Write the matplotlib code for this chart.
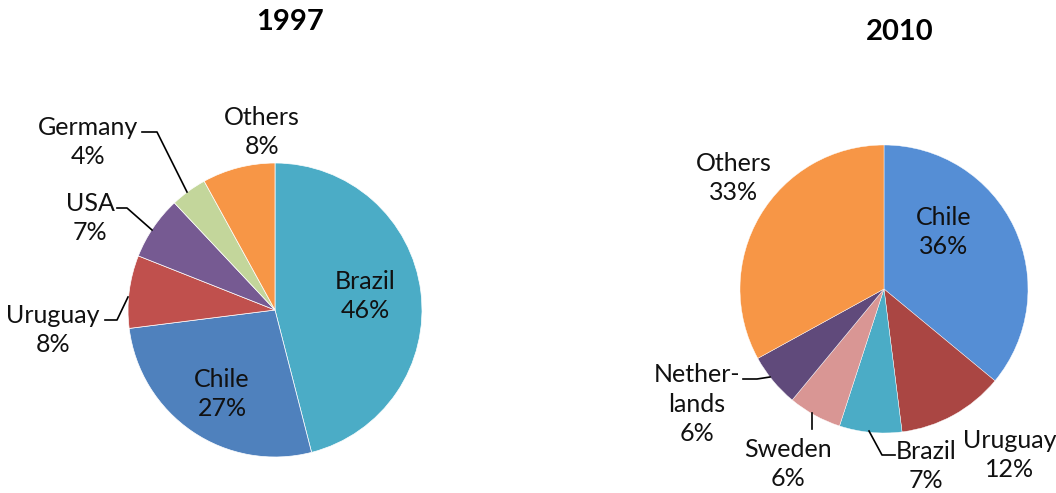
import matplotlib
matplotlib.use("Agg")
import matplotlib.pyplot as plt

plt.rcParams['font.family'] = ['Lato', 'DejaVu Sans']

# 1997 shares
labels_1997 = ["Brazil", "Chile", "Uruguay", "USA", "Germany", "Others"]
values_1997 = [46, 27, 8, 7, 4, 8]
colors_1997 = ["#4BACC6", "#4F81BD", "#C0504D", "#765A92", "#C3D69B", "#F79646"]

# 2010 shares
labels_2010 = ["Chile", "Uruguay", "Brazil", "Sweden", "Nether-\nlands", "Others"]
values_2010 = [36, 12, 7, 6, 6, 33]
colors_2010 = ["#558ED5", "#AA4643", "#4BACC6", "#D99694", "#604A7B", "#F79646"]

W, H = 1056, 493
fig = plt.figure(figsize=(W / 100, H / 100), dpi=100)
ax = fig.add_axes([0, 0, 1, 1])
ax.set_xlim(0, W)
ax.set_ylim(H, 0)
ax.set_aspect('equal')
ax.axis('off')

# pies (y axis inverted -> counterclock in data = clockwise on screen)
ax.pie(values_1997, colors=colors_1997, center=(275, 310), radius=147,
       startangle=-90, counterclock=True,
       wedgeprops=dict(edgecolor='white', linewidth=0.5))
ax.pie(values_2010, colors=colors_2010, center=(884, 289), radius=144,
       startangle=-90, counterclock=True,
       wedgeprops=dict(edgecolor='white', linewidth=0.3))
ax.set_xlim(0, W)
ax.set_ylim(H, 0)

fs = 18
# label positions (pixel centres)
pos_1997 = [(365, 296), (222, 394), (53, 330), (90, 218), (88, 142), (262, 132)]
pos_2010 = [(944, 232), (1010, 455), (926, 466), (788, 464), (697, 404), (734, 178)]

for lab, v, (x, y) in zip(labels_1997, values_1997, pos_1997):
    ax.text(x, y, f"{lab}\n{v}%", ha='center', va='center', fontsize=fs,
            linespacing=1.32, color='#111111')
for lab, v, (x, y) in zip(labels_2010, values_2010, pos_2010):
    ax.text(x, y, f"{lab}\n{v}%", ha='center', va='center', fontsize=fs,
            linespacing=1.32, color='#111111')

# leader lines
lk = dict(color='black', lw=1.2)
ax.plot([142, 157, 187], [132, 132, 192], **lk)   # Germany
ax.plot([117, 127, 152], [208, 208, 230], **lk)   # USA
ax.plot([105, 117, 128], [320, 320, 297], **lk)   # Uruguay
ax.plot([743, 757, 770], [379, 379, 377], **lk)   # Netherlands
ax.plot([812, 812], [413, 429], **lk)             # Sweden
ax.plot([869, 882, 895], [431, 455, 455], **lk)   # Brazil

ax.text(290, 22, "1997", ha='center', va='center', fontsize=21, fontweight='bold')
ax.text(900, 32, "2010", ha='center', va='center', fontsize=21, fontweight='bold')

fig.savefig("out.png", dpi=100)
